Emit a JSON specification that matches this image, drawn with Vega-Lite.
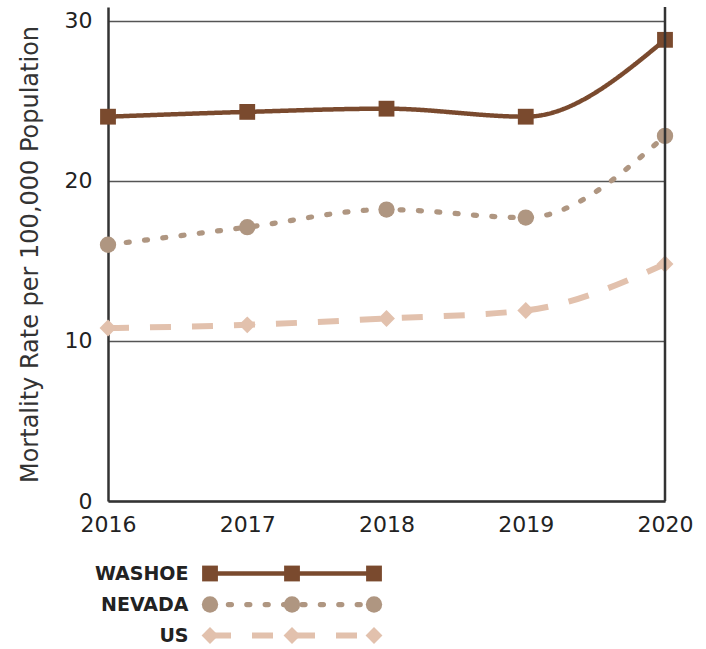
{
  "$schema": "https://vega.github.io/schema/vega-lite/v6.json",
  "padding": {"left": 18, "top": 5, "right": 5, "bottom": 0},
  "background": "white",
  "config": {"font": "DejaVu Sans", "view": {"stroke": null}, "concat": {"spacing": 23}},
  "datasets": {
    "rates": [
      {"year": "2016", "series": "WASHOE", "rate": 24.0},
      {"year": "2017", "series": "WASHOE", "rate": 24.3},
      {"year": "2018", "series": "WASHOE", "rate": 24.5},
      {"year": "2019", "series": "WASHOE", "rate": 24.0},
      {"year": "2020", "series": "WASHOE", "rate": 28.8},
      {"year": "2016", "series": "NEVADA", "rate": 16.0},
      {"year": "2017", "series": "NEVADA", "rate": 17.1},
      {"year": "2018", "series": "NEVADA", "rate": 18.2},
      {"year": "2019", "series": "NEVADA", "rate": 17.7},
      {"year": "2020", "series": "NEVADA", "rate": 22.8},
      {"year": "2016", "series": "US", "rate": 10.8},
      {"year": "2017", "series": "US", "rate": 11.0},
      {"year": "2018", "series": "US", "rate": 11.4},
      {"year": "2019", "series": "US", "rate": 11.9},
      {"year": "2020", "series": "US", "rate": 14.8}
    ],
    "legend": [
      {"series": "WASHOE", "k": 1}, {"series": "WASHOE", "k": 2}, {"series": "WASHOE", "k": 3},
      {"series": "NEVADA", "k": 1}, {"series": "NEVADA", "k": 2}, {"series": "NEVADA", "k": 3},
      {"series": "US", "k": 1}, {"series": "US", "k": 2}, {"series": "US", "k": 3}
    ]
  },
  "vconcat": [
    {
      "width": 557,
      "height": 494,
      "data": {"name": "rates"},
      "layer": [
        {
          "mark": {"type": "line", "interpolate": "monotone", "strokeCap": "butt"},
          "transform": [{"filter": "datum.series != 'NEVADA'"}],
          "encoding": {
            "x": {"field": "year", "type": "ordinal", "scale": {"type": "point", "padding": 0},
              "axis": {"labelAngle": 0, "title": null, "domainColor": "#333", "domainWidth": 2.5, "ticks": false, "labelPadding": 13, "labelFontSize": 22, "labelColor": "#222", "labelFontWeight": "normal"}},
            "y": {"field": "rate", "type": "quantitative", "scale": {"domain": [0, 30.85], "nice": false, "zero": true},
              "axis": {"values": [0, 10, 20, 30], "title": "Mortality Rate per 100,000 Population", "titleFontSize": 24, "titleFontWeight": "normal", "titleColor": "#333", "titlePadding": 22, "labelFontSize": 22, "labelColor": "#222", "labelPadding": 16, "ticks": false, "grid": true, "gridColor": "#555", "gridWidth": 1.5, "domainColor": "#333", "domainWidth": 2.5}},
            "color": {"field": "series", "type": "nominal", "scale": {"domain": ["WASHOE", "NEVADA", "US"], "range": ["#7A4A2E", "#AF9681", "#E2C1AD"]}, "legend": null},
            "strokeDash": {"field": "series", "type": "nominal", "scale": {"domain": ["WASHOE", "NEVADA", "US"], "range": [[1, 0], [3, 15.4], [21, 21]]}, "legend": null},
            "strokeWidth": {"field": "series", "type": "nominal", "scale": {"domain": ["WASHOE", "NEVADA", "US"], "range": [4.5, 6, 6]}, "legend": null}
          }
        },
        {
          "mark": {"type": "line", "interpolate": "monotone", "strokeCap": "round"},
          "transform": [{"filter": "datum.series == 'NEVADA'"}],
          "encoding": {
            "x": {"field": "year", "type": "ordinal"},
            "y": {"field": "rate", "type": "quantitative"},
            "color": {"field": "series", "type": "nominal", "legend": null},
            "strokeDash": {"field": "series", "type": "nominal", "legend": null},
            "strokeWidth": {"field": "series", "type": "nominal", "legend": null}
          }
        },
        {
          "mark": {"type": "point", "filled": true, "opacity": 1},
          "encoding": {
            "x": {"field": "year", "type": "ordinal"},
            "y": {"field": "rate", "type": "quantitative"},
            "color": {"field": "series", "type": "nominal", "legend": null},
            "shape": {"field": "series", "type": "nominal", "scale": {"domain": ["WASHOE", "NEVADA", "US"], "range": ["square", "circle", "diamond"]}, "legend": null},
            "size": {"field": "series", "type": "nominal", "scale": {"domain": ["WASHOE", "NEVADA", "US"], "range": [250, 285, 490]}, "legend": null}
          }
        },
        {
          "data": {"values": [{}]},
          "mark": {"type": "rule", "color": "#333", "strokeWidth": 2.5},
          "encoding": {"x": {"datum": "2020", "type": "ordinal"}}
        }
      ]
    },
    {
      "width": 328,
      "height": 93,
      "data": {"name": "legend"},
      "layer": [
        {
          "mark": {"type": "line", "strokeCap": "butt"},
          "transform": [{"filter": "datum.series != 'NEVADA'"}],
          "encoding": {
            "x": {"field": "k", "type": "quantitative", "scale": {"domain": [-0.244, 3.756], "nice": false, "zero": false}, "axis": null},
            "y": {"field": "series", "type": "nominal", "sort": ["WASHOE", "NEVADA", "US"], "scale": {"type": "point", "padding": 0.5},
              "axis": {"title": null, "domain": false, "ticks": false, "grid": false, "labelPadding": 0, "offset": -80, "labelFontSize": 19, "labelFontWeight": "bold", "labelColor": "#222"}},
            "color": {"field": "series", "type": "nominal", "legend": null},
            "strokeDash": {"field": "series", "type": "nominal", "legend": null},
            "strokeWidth": {"field": "series", "type": "nominal", "legend": null}
          }
        },
        {
          "mark": {"type": "line", "strokeCap": "round"},
          "transform": [{"filter": "datum.series == 'NEVADA'"}],
          "encoding": {
            "x": {"field": "k", "type": "quantitative"},
            "y": {"field": "series", "type": "nominal", "sort": ["WASHOE", "NEVADA", "US"]},
            "color": {"field": "series", "type": "nominal", "legend": null},
            "strokeDash": {"field": "series", "type": "nominal", "legend": null},
            "strokeWidth": {"field": "series", "type": "nominal", "legend": null}
          }
        },
        {
          "mark": {"type": "point", "filled": true, "opacity": 1},
          "encoding": {
            "x": {"field": "k", "type": "quantitative"},
            "y": {"field": "series", "type": "nominal", "sort": ["WASHOE", "NEVADA", "US"]},
            "color": {"field": "series", "type": "nominal", "legend": null},
            "shape": {"field": "series", "type": "nominal", "legend": null},
            "size": {"field": "series", "type": "nominal", "legend": null}
          }
        }
      ]
    }
  ]
}
